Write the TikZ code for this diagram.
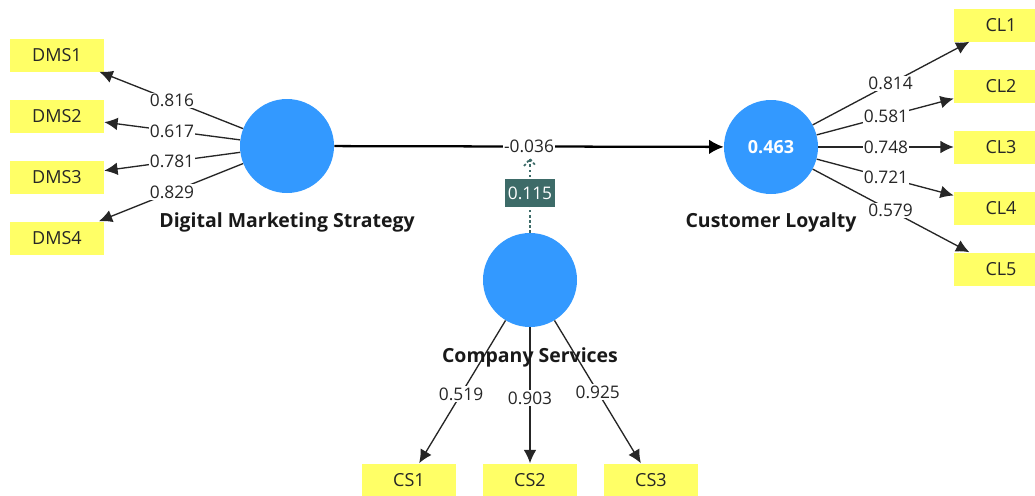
\documentclass[tikz,border=0pt]{standalone}
\usepackage{fontspec}
\setmainfont{Open Sans}
\usetikzlibrary{arrows.meta,calc}
\definecolor{lvblue}{HTML}{3399FF}
\definecolor{indyellow}{HTML}{FFFF66}
\definecolor{modteal}{HTML}{3D6B68}
\tikzset{
  latent/.style={circle,fill=lvblue,minimum size=70.5pt,inner sep=0pt},
  indicator/.style={rectangle,fill=indyellow,minimum width=70.5pt,minimum height=24.75pt,inner sep=0pt,
    font=\fontsize{13.5}{15}\selectfont,text=black!85},
  lvname/.style={font=\bfseries\fontsize{14.6}{16}\selectfont,text=black!90},
  loading/.style={draw=black!85,line width=1pt,-{Latex[length=10pt,width=9.5pt]}},
  weight/.style={fill=white,inner sep=1pt,font=\fontsize{13}{15}\selectfont,text=black!85},
  pathline/.style={draw=black,line width=1.7pt,-{Latex[length=11pt,width=11pt]}},
  modline/.style={draw=modteal,line width=1.8pt,dotted},
  modlabel/.style={fill=modteal,text=white,minimum width=37.5pt,minimum height=21pt,inner sep=0pt,
    font=\fontsize{13}{15}\selectfont}
}
\begin{document}
\begin{tikzpicture}[x=0.75pt,y=-0.75pt]
\useasboundingbox (0,0) rectangle (1035,496);

% latent variables
\node[latent] (dms) at (287,146) {};
\node[latent] (cl) at (771,147) {\textcolor{white}{\bfseries\fontsize{13.5}{15}\selectfont 0.463}};
\node[latent] (cs) at (530,280) {};

% indicators
\node[indicator] (dms1) at (57,55) {DMS1};
\node[indicator] (dms2) at (57,116) {DMS2};
\node[indicator] (dms3) at (57,177) {DMS3};
\node[indicator] (dms4) at (57,238) {DMS4};

\node[indicator] (cl1) at (1001,25) {CL1};
\node[indicator] (cl2) at (1001,86) {CL2};
\node[indicator] (cl3) at (1001,147) {CL3};
\node[indicator] (cl4) at (1001,208) {CL4};
\node[indicator] (cl5) at (1001,269) {CL5};

\node[indicator] (cs1) at (409,480) {CS1};
\node[indicator] (cs2) at (530,480) {CS2};
\node[indicator] (cs3) at (651,480) {CS3};

% outer loadings
\foreach \ind/\val/\t in {dms1/0.816/0.5,dms2/0.617/0.5,dms3/0.781/0.5,dms4/0.829/0.5}{
  \draw[loading] (dms) -- (\ind);
  \node[weight] at ($(dms)!\t!(\ind)$) {\val};
}
\foreach \ind/\val/\t in {cl1/0.814/0.52,cl2/0.581/0.5,cl3/0.748/0.5,cl4/0.721/0.5,cl5/0.579/0.52}{
  \draw[loading] (cl) -- (\ind);
  \node[weight] at ($(cl)!\t!(\ind)$) {\val};
}
\foreach \ind/\val/\t in {cs1/0.519/0.57,cs2/0.903/0.59,cs3/0.925/0.56}{
  \draw[loading] (cs) -- (\ind);
  \node[weight] at ($(cs)!\t!(\ind)$) {\val};
}

% construct names, set over the loading lines
\node[lvname] (dmsname) at (287,222) {Digital Marketing Strategy};
\node[lvname] (clname) at (771,222) {Customer Loyalty};
\node[lvname] (csname) at (530,357) {Company Services};

% structural path
\draw[pathline] (dms) -- (cl) node[weight,midway] (pc) {-0.036};

% moderating effect
\coordinate (modtip) at (530,159);
\draw[modline] (cs) -- (modtip);
\draw[draw=modteal,line width=1.3pt,dash pattern=on 2pt off 1.5pt]
  ($(modtip)+(-6,7)$) -- (modtip) -- ($(modtip)+(6,7)$);
\node[modlabel] (mod) at (530,193) {0.115};
\end{tikzpicture}
\end{document}
